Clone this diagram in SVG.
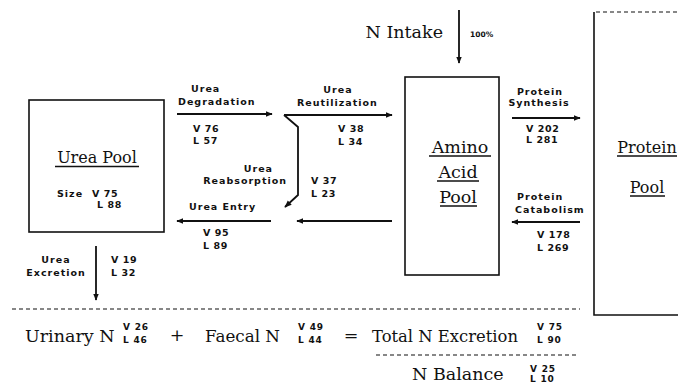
<svg xmlns="http://www.w3.org/2000/svg" width="678" height="389" viewBox="0 0 678 389">
<style>
.lbl{font-family:"DejaVu Sans",sans-serif;font-weight:bold;font-size:9.5px;letter-spacing:1px;fill:#111}
.num{font-family:"DejaVu Sans",sans-serif;font-weight:bold;font-size:9.5px;letter-spacing:0.6px;fill:#111}
.big{font-family:"DejaVu Serif",serif;font-size:16px;fill:#111}
.eq{font-family:"DejaVu Serif",serif;font-size:17.5px;fill:#111}
.sup{font-family:"DejaVu Sans",sans-serif;font-weight:bold;font-size:9px;letter-spacing:0.8px;fill:#111}
.box{fill:none;stroke:#111;stroke-width:1.6}
.ln{fill:none;stroke:#111;stroke-width:1.8}
.ul{stroke:#111;stroke-width:1.3}
.dash{fill:none;stroke:#111;stroke-width:1.2;stroke-dasharray:4 3}
</style>
<defs>
<marker id="ah" viewBox="0 0 10 10" refX="9" refY="5" markerWidth="4" markerHeight="4" orient="auto" markerUnits="strokeWidth">
<path d="M0,1 L10,5 L0,9 z" fill="#111"/>
</marker>
</defs>
<rect width="678" height="389" fill="#fff"/>

<g id="urea-pool">
<rect class="box" x="29" y="100" width="135" height="132"/>
<text class="big" x="97" y="163" text-anchor="middle">Urea Pool</text>
<line class="ul" x1="55" y1="166.5" x2="139" y2="166.5"/>
<text class="lbl" x="57" y="197">Size</text>
<text class="num" x="92" y="197">V 75</text>
<text class="num" x="97" y="208">L 88</text>
</g>

<g id="amino-acid-pool">
<rect class="box" x="405" y="77" width="94" height="198"/>
<text class="big" x="460" y="153" text-anchor="middle" style="font-size:17.5px">Amino</text>
<line class="ul" x1="429" y1="156" x2="491" y2="156"/>
<text class="big" x="458" y="178" text-anchor="middle" style="font-size:17.5px">Acid</text>
<line class="ul" x1="437" y1="181" x2="479" y2="181"/>
<text class="big" x="458" y="203" text-anchor="middle" style="font-size:17.5px">Pool</text>
<line class="ul" x1="440" y1="206" x2="477" y2="206"/>
</g>

<g id="protein-pool">
<line class="dash" x1="596" y1="12" x2="678" y2="12"/>
<polyline class="box" points="594,12 594,315 678,315"/>
<text class="big" x="647" y="153" text-anchor="middle">Protein</text>
<line class="ul" x1="617" y1="156" x2="677" y2="156"/>
<text class="big" x="647" y="193" text-anchor="middle">Pool</text>
<line class="ul" x1="630" y1="196" x2="665" y2="196"/>
</g>

<g id="connectors">
<line class="ln" x1="459" y1="10" x2="459" y2="63" marker-end="url(#ah)"/>
<line class="ln" x1="177" y1="114" x2="272" y2="114" marker-end="url(#ah)"/>
<line class="ln" x1="284" y1="115" x2="392" y2="115" marker-end="url(#ah)"/>
<polyline class="ln" points="284,115 298,127 298,195 285,207" marker-end="url(#ah)"/>
<line class="ln" x1="271" y1="221" x2="177" y2="221" marker-end="url(#ah)"/>
<line class="ln" x1="392" y1="221" x2="297" y2="221" marker-end="url(#ah)"/>
<line class="ln" x1="512" y1="118" x2="580" y2="118" marker-end="url(#ah)"/>
<line class="ln" x1="580" y1="222" x2="512" y2="222" marker-end="url(#ah)"/>
<line class="ln" x1="96" y1="246" x2="96" y2="300" marker-end="url(#ah)"/>
</g>

<g id="labels">
<text class="eq" x="443" y="38" text-anchor="end">N Intake</text>
<text class="sup" x="470" y="37" style="font-size:7.5px;letter-spacing:0">100%</text>

<text class="lbl" x="191" y="92">Urea</text>
<text class="lbl" x="178" y="105">Degradation</text>
<text class="num" x="193" y="132">V 76</text>
<text class="num" x="193" y="144">L 57</text>

<text class="lbl" x="338" y="93" text-anchor="middle">Urea</text>
<text class="lbl" x="297" y="106">Reutilization</text>
<text class="num" x="338" y="132">V 38</text>
<text class="num" x="338" y="145">L 34</text>

<text class="lbl" x="273" y="172" text-anchor="end">Urea</text>
<text class="lbl" x="287" y="184" text-anchor="end">Reabsorption</text>
<text class="num" x="311" y="184">V 37</text>
<text class="num" x="311" y="197">L 23</text>

<text class="lbl" x="189" y="210">Urea Entry</text>
<text class="num" x="203" y="236">V 95</text>
<text class="num" x="203" y="249">L 89</text>

<text class="lbl" x="540" y="95" text-anchor="middle">Protein</text>
<text class="lbl" x="539" y="106" text-anchor="middle">Synthesis</text>
<text class="num" x="526" y="132">V 202</text>
<text class="num" x="526" y="143">L 281</text>

<text class="lbl" x="517" y="200">Protein</text>
<text class="lbl" x="515" y="213">Catabolism</text>
<text class="num" x="537" y="238">V 178</text>
<text class="num" x="537" y="251">L 269</text>

<text class="lbl" x="56" y="263" text-anchor="middle">Urea</text>
<text class="lbl" x="56" y="276" text-anchor="middle">Excretion</text>
<text class="num" x="111" y="263">V 19</text>
<text class="num" x="111" y="276">L 32</text>
</g>

<g id="balance">
<line class="dash" x1="12" y1="309" x2="580" y2="309"/>
<text class="eq" x="25" y="342">Urinary N</text>
<text class="sup" x="123" y="330">V 26</text>
<text class="sup" x="123" y="343">L 46</text>
<text class="eq" x="177" y="341" text-anchor="middle">+</text>
<text class="eq" x="205" y="342" textLength="75" lengthAdjust="spacingAndGlyphs">Faecal N</text>
<text class="sup" x="298" y="330">V 49</text>
<text class="sup" x="298" y="343">L 44</text>
<text class="eq" x="351" y="341" text-anchor="middle">=</text>
<text class="eq" x="372" y="342" textLength="146" lengthAdjust="spacingAndGlyphs">Total N Excretion</text>
<text class="sup" x="537" y="330">V 75</text>
<text class="sup" x="537" y="343">L 90</text>
<line class="dash" x1="376" y1="355" x2="578" y2="355"/>
<text class="eq" x="412" y="380">N Balance</text>
<text class="sup" x="530" y="372">V 25</text>
<text class="sup" x="530" y="382">L 10</text>
</g>
</svg>
